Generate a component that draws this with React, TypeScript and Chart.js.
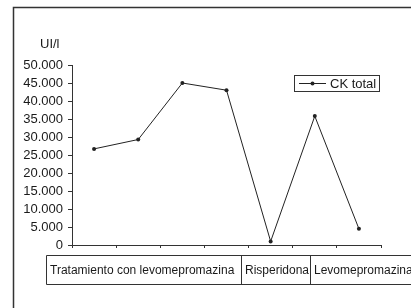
import React, { useEffect, useRef } from "react";
import { Chart, registerables } from "chart.js";

Chart.register(...registerables);

const categories = ["1", "2", "3", "4", "5", "6", "7"];
const ckTotal = [26700, 29300, 45000, 43000, 1000, 35800, 4500];
const seriesLabel = "CK total";
const yAxisTitle = "UI/l";
const phases = ["Tratamiento con levomepromazina", "Risperidona", "Levomepromazina"];

const FONT = "'Liberation Sans', Arial, sans-serif";

const overlay = {
  id: "overlay",
  afterDraw(chart: any) {
    const ctx = chart.ctx;
    ctx.save();
    // outer frame
    ctx.strokeStyle = "#333";
    ctx.lineWidth = 1.5;
    ctx.beginPath();
    ctx.moveTo(13.5, 320);
    ctx.lineTo(13.5, 7.5);
    ctx.lineTo(420, 7.5);
    ctx.stroke();

    // y title
    ctx.fillStyle = "#1a1a1a";
    ctx.font = `13px ${FONT}`;
    ctx.textAlign = "left";
    ctx.textBaseline = "middle";
    ctx.fillText(yAxisTitle, 40, 44);

    // phase table
    const top = 255.5;
    const bottom = 284.5;
    const left = 46.5;
    const dividers = [241.5, 310.5];
    ctx.strokeStyle = "#333";
    ctx.lineWidth = 1;
    ctx.beginPath();
    ctx.moveTo(420, top);
    ctx.lineTo(left, top);
    ctx.lineTo(left, bottom);
    ctx.lineTo(420, bottom);
    dividers.forEach((d) => {
      ctx.moveTo(d, top);
      ctx.lineTo(d, bottom);
    });
    ctx.stroke();
    ctx.font = `12px ${FONT}`;
    ctx.fillStyle = "#1a1a1a";
    const starts = [left, ...dividers];
    phases.forEach((p, i) => {
      ctx.fillText(p, starts[i] + 3.5, (top + bottom) / 2 + 1);
    });

    // legend
    const lx = 294.5, ly = 75.5, lw = 85, lh = 16;
    ctx.strokeStyle = "#333";
    ctx.strokeRect(lx, ly, lw, lh);
    ctx.strokeStyle = "#222";
    ctx.beginPath();
    ctx.moveTo(299, ly + lh / 2);
    ctx.lineTo(326, ly + lh / 2);
    ctx.stroke();
    ctx.fillStyle = "#222";
    ctx.beginPath();
    ctx.arc(312.5, ly + lh / 2, 2, 0, Math.PI * 2);
    ctx.fill();
    ctx.font = `13px ${FONT}`;
    ctx.fillStyle = "#1a1a1a";
    ctx.fillText(seriesLabel, 330, ly + lh / 2 + 1);
    ctx.restore();
  },
};

export default function App() {
  const ref = useRef<HTMLCanvasElement>(null);
  useEffect(() => {
    const chart = new Chart(ref.current!, {
      type: "line",
      data: {
        labels: categories,
        datasets: [
          {
            label: seriesLabel,
            data: ckTotal,
            borderColor: "#222",
            backgroundColor: "#222",
            borderWidth: 1,
            pointRadius: 2,
            pointBackgroundColor: "#222",
            pointBorderWidth: 0,
            tension: 0,
          },
        ],
      },
      options: {
        responsive: false,
        animation: false,
        layout: { padding: { left: 13, right: 30, top: 65, bottom: 53 } },
        plugins: { legend: { display: false }, tooltip: { enabled: false } },
        scales: {
          x: {
            type: "category",
            offset: true,
            afterFit: (s: any) => { s.height = 10; },
            ticks: { display: false },
            grid: { offset: true, drawOnChartArea: false, drawTicks: true, tickLength: 3, color: "#333" },
            border: { display: true, color: "#333", width: 1 },
          },
          y: {
            min: 0,
            max: 50000,
            afterFit: (s: any) => { s.width = 59; },
            ticks: {
              stepSize: 5000,
              autoSkip: false,
              padding: 5,
              color: "#1a1a1a",
              font: { family: FONT, size: 13 },
              callback: (v: any) => Number(v).toString().replace(/\B(?=(\d{3})+(?!\d))/g, "."),
            },
            grid: { drawOnChartArea: false, drawTicks: true, tickLength: 4, color: "#333" },
            border: { display: true, color: "#333", width: 1 },
          },
        },
      },
      plugins: [overlay],
    });
    return () => chart.destroy();
  }, []);
  return (
    <div style={{ position: "fixed", left: 0, top: 0, width: 411, height: 308, background: "#fff" }}>
      <canvas ref={ref} width={411} height={308} />
    </div>
  );
}
